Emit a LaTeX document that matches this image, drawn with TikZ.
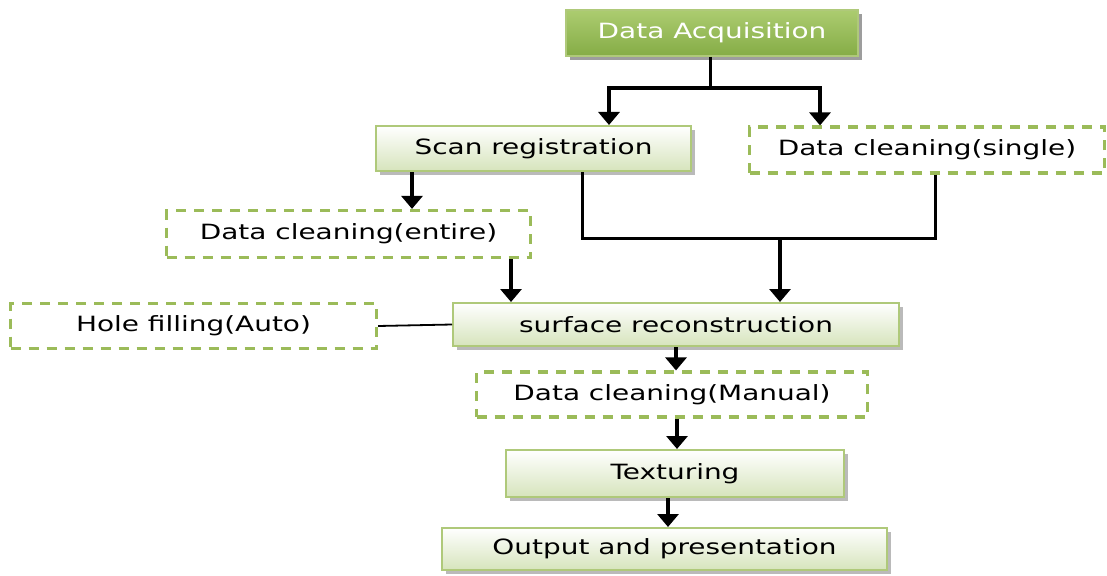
\documentclass[tikz,border=0pt]{standalone}
\usepackage{fontspec}
\setmainfont[FakeStretch=1.33]{DejaVu Sans}
\usetikzlibrary{arrows.meta,shadows,calc}
\definecolor{ogreen}{RGB}{155,187,89}
\definecolor{lgreen}{RGB}{214,228,188}
\definecolor{dgreen}{RGB}{133,172,70}
\definecolor{mgreen}{RGB}{172,204,112}
\tikzset{
  solidbox/.style={draw=ogreen!80, line width=2pt, top color=white, bottom color=lgreen,
    drop shadow={shadow xshift=4pt, shadow yshift=-4pt, fill=black!45, opacity=0.6},
    font=\fontsize{21}{25}\selectfont, inner sep=0pt},
  mainbox/.style={draw=ogreen!80, line width=2pt, top color=mgreen, bottom color=dgreen,
    drop shadow={shadow xshift=4pt, shadow yshift=-4pt, fill=black!55, opacity=0.7},
    text=white, font=\fontsize{21}{25}\selectfont, inner sep=0pt},
  dashbox/.style={draw=ogreen, line width=3.2pt, dash pattern=on 10pt off 8pt, fill=white,
    font=\fontsize{21}{25}\selectfont, inner sep=0pt},
  arr/.style={line width=3.2pt, -{Triangle[width=21pt,length=13pt]}},
  ln/.style={line width=3pt},
}
\begin{document}
\begin{tikzpicture}[x=1pt,y=-1pt]
\useasboundingbox (0,0) rectangle (1107,575);
\node[mainbox, minimum width=292pt, minimum height=46pt] (acq) at (712,33) {Data Acquisition};
\node[solidbox, minimum width=315pt, minimum height=45pt] (scan) at (533.5,148.5) {Scan registration};
\node[dashbox, minimum width=355pt, minimum height=46pt] (single) at (927,150) {Data cleaning(single)};
\node[dashbox, minimum width=364pt, minimum height=47pt] (entire) at (348.5,234) {Data cleaning(entire)};
\node[dashbox, minimum width=366pt, minimum height=45pt] (hole) at (193.5,326) {Hole filling(Auto)};
\node[solidbox, minimum width=446pt, minimum height=43pt] (surf) at (676,324.5) {surface reconstruction};
\node[dashbox, minimum width=391pt, minimum height=45pt] (manual) at (672,394.5) {Data cleaning(Manual)};
\node[solidbox, minimum width=338pt, minimum height=47pt] (tex) at (675,473.5) {Texturing};
\node[solidbox, minimum width=445pt, minimum height=42pt] (out) at (664.5,549) {Output and presentation};

\coordinate (split) at (710,88);
\coordinate (join) at (780,238);
\draw[ln] (acq.south -| split) -- (split);
\draw[arr] (split) -| (scan.north -| 609,0);
\draw[arr] (split) -| (single.north -| 820,0);
\draw[arr] (scan.south -| 412,0) -- (entire.north -| 412,0);
\draw[ln] (scan.south -| 582,0) |- (join);
\draw[ln] (single.south -| 935,0) |- (join);
\draw[arr] (join) -- (surf.north -| join);
\draw[arr] (entire.south -| 511,0) -- (surf.north -| 511,0);
\draw[line width=1.8pt] (hole.east) -- (surf.west);
\draw[arr] (surf.south -| 676,0) -- (manual.north -| 676,0);
\draw[arr] (manual.south -| 677,0) -- (tex.north -| 677,0);
\draw[arr] (tex.south -| 668,0) -- (out.north -| 668,0);
\end{tikzpicture}
\end{document}
